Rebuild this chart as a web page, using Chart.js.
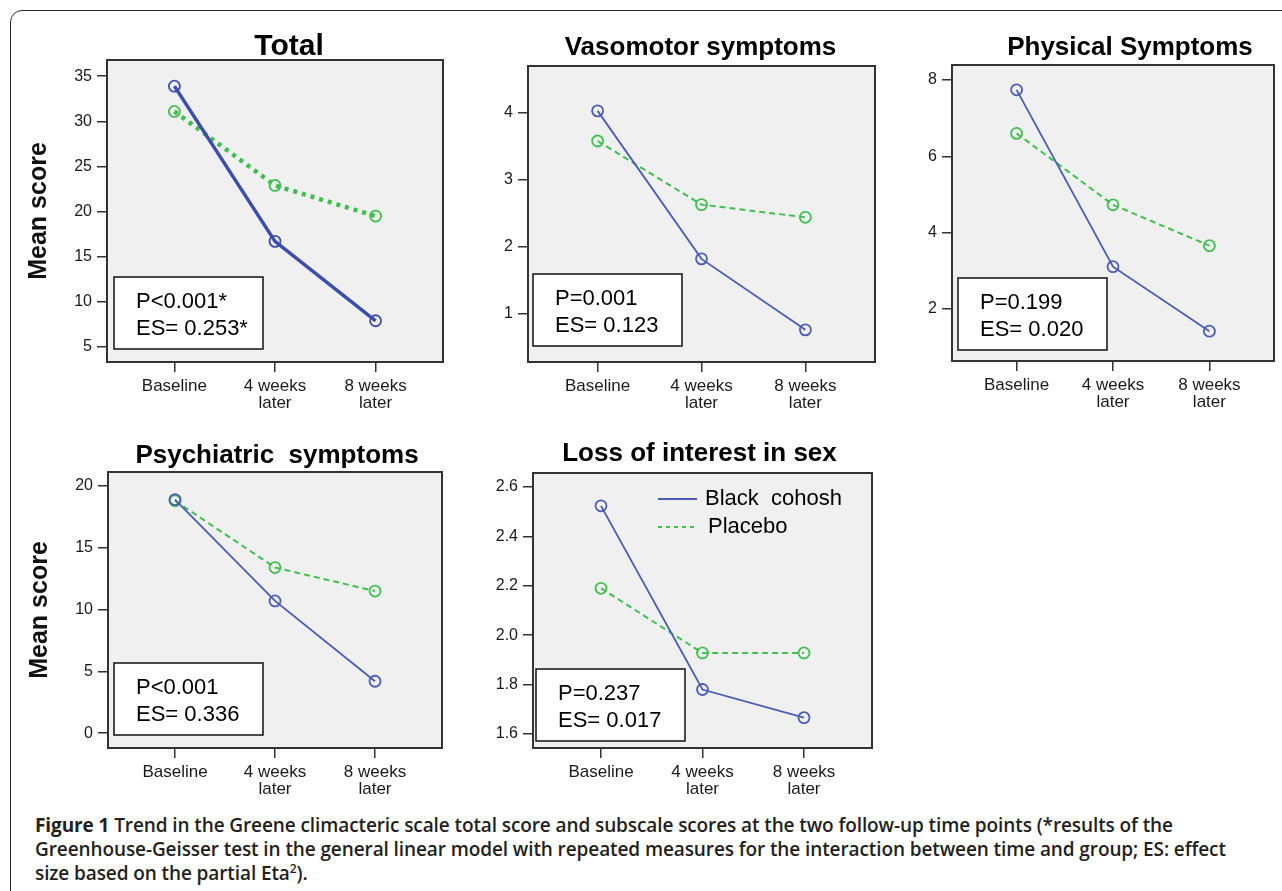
<!DOCTYPE html>
<html>
<head>
<meta charset="utf-8">
<script src="https://cdn.jsdelivr.net/npm/chart.js@4.4.0/dist/chart.umd.min.js"></script>
<style>
html,body{margin:0;padding:0;background:#fff;width:1282px;height:891px;overflow:hidden;position:relative;}
#frame{position:absolute;left:10px;top:10px;width:1300px;height:920px;border:1.5px solid #2a2a2a;border-radius:12px;box-sizing:border-box;}
canvas{position:absolute;}
#caption{position:absolute;left:35px;top:813px;font-family:"Open Sans",sans-serif;font-weight:600;font-size:19px;line-height:24px;color:#231f20;white-space:nowrap;letter-spacing:-0.1px;}
#caption b{font-weight:700;}
#caption sup{font-size:12px;line-height:0;}
</style>
</head>
<body>
<div id="frame"></div>
<canvas id="c1"></canvas>
<canvas id="c2"></canvas>
<canvas id="c3"></canvas>
<canvas id="c4"></canvas>
<canvas id="c5"></canvas>
<div id="caption"><b>Figure 1</b> Trend in the Greene climacteric scale total score and subscale scores at the two follow-up time points (*results of the<br>Greenhouse-Geisser test in the general linear model with repeated measures for the interaction between time and group; ES: effect<br>size based on the partial Eta<sup>2</sup>).</div>
<script>
// ---- data ----
const timePoints = [['Baseline'], ['4 weeks', 'later'], ['8 weeks', 'later']];
const seriesNames = ['Black  cohosh', 'Placebo'];
const panelTitles = ['Total', 'Vasomotor symptoms', 'Physical Symptoms', 'Psychiatric  symptoms', 'Loss of interest in sex'];
const yAxisLabel = 'Mean score';

const totalBlack = [33.9, 16.7, 7.9];
const totalPlacebo = [31.1, 22.9, 19.5];
const vasoBlack = [4.03, 1.82, 0.76];
const vasoPlacebo = [3.58, 2.63, 2.44];
const physBlack = [7.74, 3.11, 1.42];
const physPlacebo = [6.60, 4.73, 3.66];
const psychBlack = [18.9, 10.7, 4.2];
const psychPlacebo = [18.8, 13.4, 11.5];
const sexBlack = [2.524, 1.78, 1.666];
const sexPlacebo = [2.19, 1.928, 1.928];

const pValues = ['P<0.001*', 'P=0.001', 'P=0.199', 'P<0.001', 'P=0.237'];
const effectSizes = ['ES= 0.253*', 'ES= 0.123', 'ES= 0.020', 'ES= 0.336', 'ES= 0.017'];

// ---- layout / style ----
const FONT = '"Liberation Sans", Arial, sans-serif';
const L = 100, T = 70, R = 8, B = 60;
const BLUE = '#4a5bb8', BLUE_DARK = '#3c4eac', GREEN = '#3fbf4f';

const panels = [
  {id: 'c1', box: [107, 60, 443, 362], black: totalBlack, placebo: totalPlacebo, ymin: 3.33, ymax: 36.8, step: 5, dec: 0,
   thick: true, ylab: true, titleSize: 30, titleDx: 14, titleGap: 5, ann: [7, 13], legend: false},
  {id: 'c2', box: [528, 66, 875, 362], black: vasoBlack, placebo: vasoPlacebo, ymin: 0.28, ymax: 4.70, step: 1, dec: 0,
   thick: false, ylab: false, titleSize: 26, titleDx: -1, titleGap: 11, ann: [5, 16], legend: false},
  {id: 'c3', box: [952, 65, 1274, 361], black: physBlack, placebo: physPlacebo, ymin: 0.64, ymax: 8.39, step: 2, dec: 0,
   thick: false, ylab: false, titleSize: 26, titleDx: 17, titleGap: 10, ann: [6, 11], legend: false},
  {id: 'c4', box: [108, 472, 442, 748], black: psychBlack, placebo: psychPlacebo, ymin: -1.2, ymax: 21.13, step: 5, dec: 0,
   thick: false, ylab: true, titleSize: 26, titleDx: 2, titleGap: 9, ann: [6, 13], legend: false},
  {id: 'c5', box: [533, 473, 872, 748], black: sexBlack, placebo: sexPlacebo, ymin: 1.543, ymax: 2.657, step: 0.2, dec: 1,
   thick: false, ylab: false, titleSize: 26, titleDx: -3, titleGap: 12, ann: [3, 7], legend: true},
];

const decor = {
  id: 'panelDecor',
  beforeDraw(chart, args, o) {
    const {ctx, chartArea: a} = chart;
    ctx.save();
    ctx.fillStyle = '#f0f0f0';
    ctx.fillRect(a.left, a.top, a.right - a.left, a.bottom - a.top);
    ctx.restore();
  },
  beforeDatasetsDraw(chart, args, o) {
    const {ctx, chartArea: a} = chart;
    ctx.save();
    ctx.strokeStyle = '#333';
    ctx.lineWidth = 2;
    ctx.strokeRect(a.left, a.top, a.right - a.left, a.bottom - a.top);
    ctx.restore();
  },
  afterDatasetsDraw(chart, args, o) {
    const {ctx, chartArea: a} = chart;
    ctx.save();
    const bx = a.left + o.ann[0], bh = 72, bw = 149, by = a.bottom - o.ann[1] - bh;
    ctx.fillStyle = '#fff';
    ctx.fillRect(bx, by, bw, bh);
    ctx.strokeStyle = '#111';
    ctx.lineWidth = 1.5;
    ctx.strokeRect(bx, by, bw, bh);
    ctx.fillStyle = '#000';
    ctx.font = '22px ' + FONT;
    ctx.textBaseline = 'middle';
    ctx.textAlign = 'left';
    ctx.fillText(o.p, bx + 22, by + 25);
    ctx.fillText(o.es, bx + 22, by + 52);
    if (o.legend) {
      chart.data.datasets.forEach((ds, i) => {
        const y = a.top + 26 + 28 * i;
        ctx.strokeStyle = ds.borderColor;
        ctx.lineWidth = ds.borderWidth;
        ctx.setLineDash(ds.legendDash || []);
        ctx.beginPath();
        ctx.moveTo(a.left + 125, y);
        ctx.lineTo(a.left + 164, y);
        ctx.stroke();
        ctx.setLineDash([]);
        ctx.fillStyle = '#000';
        ctx.fillText(ds.label, a.left + 172 + 3 * i, y);
      });
    }
    ctx.restore();
  },
  afterDraw(chart, args, o) {
    const {ctx, chartArea: a} = chart;
    ctx.save();
    ctx.fillStyle = '#000';
    ctx.font = 'bold ' + o.titleSize + 'px ' + FONT;
    ctx.textAlign = 'center';
    ctx.textBaseline = 'alphabetic';
    ctx.fillText(o.title, (a.left + a.right) / 2 + o.titleDx, a.top - o.titleGap);
    ctx.restore();
  }
};

panels.forEach((p, idx) => {
  const [x0, y0, x1, y1] = p.box;
  const cv = document.getElementById(p.id);
  const W = (x1 - x0) + L + R, H = (y1 - y0) + T + B;
  cv.width = W; cv.height = H;
  cv.style.left = (x0 - L) + 'px';
  cv.style.top = (y0 - T) + 'px';
  cv.style.width = W + 'px';
  cv.style.height = H + 'px';

  const mk = (vals) => timePoints.map((t, i) => ({x: i, y: vals[i]}));
  const datasets = [
    {label: seriesNames[0], data: mk(p.black), borderColor: p.thick ? BLUE_DARK : BLUE, borderWidth: p.thick ? 3.5 : 1.8,
     pointRadius: 5.5, pointBorderWidth: 1.8, pointBackgroundColor: 'rgba(0,0,0,0)', pointBorderColor: p.thick ? BLUE_DARK : BLUE,
     tension: 0, clip: false, legendDash: []},
    {label: seriesNames[1], data: mk(p.placebo), borderColor: GREEN, borderWidth: p.thick ? 4.5 : 2,
     borderDash: p.thick ? [4, 5] : [6, 4], pointRadius: 5.5, pointBorderWidth: 1.8, pointBackgroundColor: 'rgba(0,0,0,0)',
     pointBorderColor: GREEN, tension: 0, clip: false, legendDash: [4, 4]}
  ];

  new Chart(cv, {
    type: 'line',
    data: {datasets},
    plugins: [decor],
    options: {
      responsive: false,
      animation: false,
      devicePixelRatio: 1,
      layout: {padding: {top: T, right: R, left: 0, bottom: 0}},
      plugins: {
        legend: {display: false},
        tooltip: {enabled: false},
        panelDecor: {title: panelTitles[idx], titleSize: p.titleSize, titleDx: p.titleDx, titleGap: p.titleGap,
                     ann: p.ann, p: pValues[idx], es: effectSizes[idx], legend: p.legend}
      },
      scales: {
        x: {
          type: 'linear', min: -0.67, max: 2.67,
          afterFit(s) { s.height = B; },
          ticks: {stepSize: 1, includeBounds: false, autoSkip: false, maxRotation: 0, minRotation: 0,
                  callback: v => timePoints[Math.round(v)] || '',
                  font: {family: FONT, size: 17, lineHeight: 1.0}, color: '#1a1a1a', padding: 6},
          grid: {drawOnChartArea: false, drawTicks: true, tickLength: 10, color: '#333', lineWidth: 1.5},
          border: {display: false}
        },
        y: {
          min: p.ymin, max: p.ymax,
          afterFit(s) { s.width = L; },
          ticks: {stepSize: p.step, includeBounds: false, callback: v => Number(v).toFixed(p.dec),
                  font: {family: FONT, size: 16}, color: '#1a1a1a', padding: 5},
          grid: {drawOnChartArea: false, drawTicks: true, tickLength: 10, color: '#333', lineWidth: 1.5},
          border: {display: false},
          title: {display: p.ylab, text: yAxisLabel, color: '#111', font: {family: FONT, size: 25, weight: 'bold'},
                  padding: {top: 17, bottom: 0}}
        }
      }
    }
  });
});
</script>
</body>
</html>
